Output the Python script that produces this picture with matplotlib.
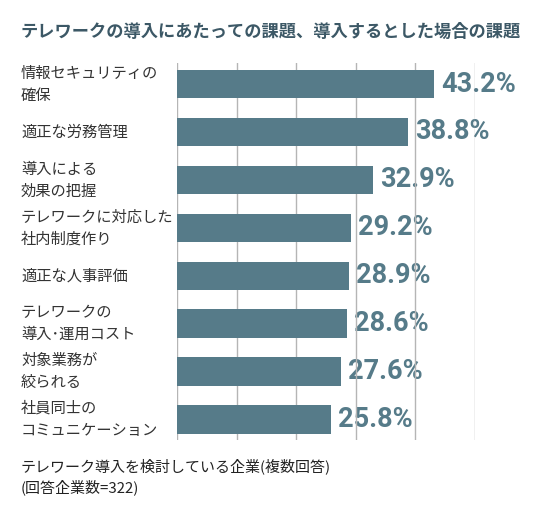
import matplotlib
matplotlib.use('Agg')
import matplotlib.pyplot as plt
import matplotlib.transforms as mtransforms

plt.rcParams['font.family'] = ['Noto Sans CJK JP', 'DejaVu Sans']

# data
labels = ['情報セキュリティの\n確保', '適正な労務管理', '導入による\n効果の把握',
          'テレワークに対応した\n社内制度作り', '適正な人事評価', 'テレワークの\n導入･運用コスト',
          '対象業務が\n絞られる', '社員同士の\nコミュニケーション']
values = [43.2, 38.8, 32.9, 29.2, 28.9, 28.6, 27.6, 25.8]
grid_ticks = [0, 10, 20, 30, 40, 50]

title = 'テレワークの導入にあたっての課題、導入するとした場合の課題'
note = 'テレワーク導入を検討している企業(複数回答)\n(回答企業数=322)'

bar_color = '#567b89'
title_color = '#3c5866'
text_color = '#333333'

fig = plt.figure(figsize=(5.4, 5.15), dpi=100)
ax = fig.add_axes([177 / 540, 75 / 515, 298 / 540, 377 / 515])

pos = list(range(len(values)))
ax.barh(pos, values, height=0.59, color=bar_color, zorder=2)

ax.set_xlim(0, 50)
ax.set_ylim(len(values) - 1 + 0.43, -0.44)
ax.set_xticks(grid_ticks)
ax.set_yticks([])
ax.tick_params(axis='x', length=0, labelbottom=False)
ax.grid(axis='x', color='#b5b5b5', linewidth=1.0, zorder=1)
for s in ax.spines.values():
    s.set_visible(False)

# value labels next to the bars
for i, v in enumerate(values):
    ax.annotate(f'{v}%', xy=(v, i), xytext=(7, 0), textcoords='offset pixels',
                ha='left', va='center', fontsize=19.5, fontweight='bold',
                color=bar_color, family=['Roboto', 'DejaVu Sans'],
                annotation_clip=False, zorder=0)

# category labels on the left
trans = mtransforms.blended_transform_factory(fig.transFigure, ax.transData)
for i, lab in enumerate(labels):
    ax.text(21 / 540, i, lab, transform=trans, ha='left', va='center',
            fontsize=11.0, color=text_color, linespacing=1.38)

fig.text(21 / 540, 1 - 32 / 515, title, ha='left', va='center',
         fontsize=12.4, fontweight='bold', color=title_color)
fig.text(21 / 540, 1 - 477 / 515, note, ha='left', va='center',
         fontsize=10.8, color='#222222', linespacing=1.4)

fig.savefig('out.png', dpi=100)
